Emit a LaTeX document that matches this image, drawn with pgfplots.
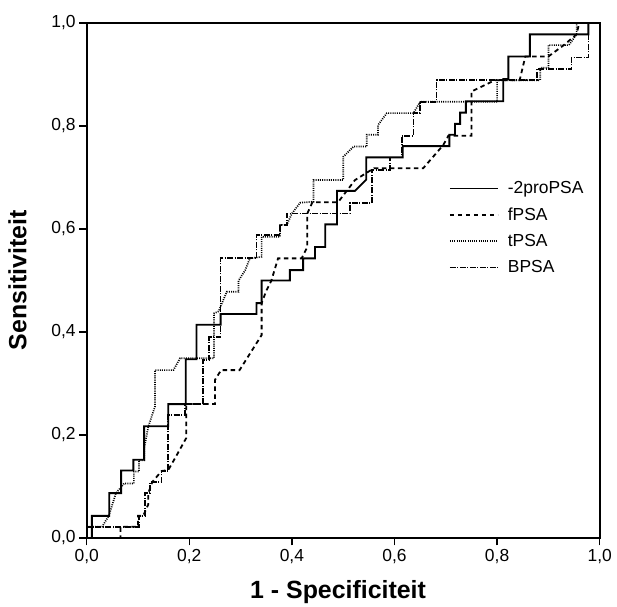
\documentclass[border=0pt]{standalone}
\usepackage{fontspec}
\setmainfont{Liberation Sans}
\usepackage{pgfplots}
\pgfplotsset{compat=1.18}
\begin{document}
\begin{tikzpicture}
\begin{axis}[
  at={(0,0)}, anchor=south west,
  scale only axis, width=513bp, height=515bp,
  xmin=0, xmax=1, ymin=0, ymax=1,
  axis line style={line width=2bp},
  xtick={0,0.2,0.4,0.6,0.8,1}, ytick={0,0.2,0.4,0.6,0.8,1},
  tick align=outside, xtick pos=bottom, ytick pos=left,
  major tick length=7.5bp,
  tick style={line width=1.4bp, black},
  ticklabel style={font=\fontsize{17.5}{20}\selectfont},
  xlabel={\textbf{1 - Specificiteit}},
  ylabel={\textbf{Sensitiviteit}},
  xlabel style={at={(axis description cs:0.49,-0.105)}, anchor=center, font=\fontsize{25}{28}\selectfont},
  ylabel style={at={(axis description cs:-0.135,0.5)}, anchor=center, font=\fontsize{25}{28}\selectfont},
  legend cell align=left,
  legend style={at={(axis cs:0.700,0.700)}, anchor=north west, draw=none, fill=none,
    font=\fontsize{17.5}{20}\selectfont, row sep=8.5bp,
    /tikz/every odd column/.append style={column sep=7bp}},
  legend image code/.code={\draw[#1] (0bp,0bp) -- (48bp,0bp);},
  /pgf/number format/fixed,
  /pgf/number format/fixed zerofill,
  /pgf/number format/precision=1,
  /pgf/number format/use comma,
  /pgf/number format/assume math mode=true,
]
% -2proPSA
\addplot[black, mark=none, line width=1.9bp] coordinates {(0,0)(0.01,0)(0.01,0.043)(0.044,0.043)(0.044,0.087)(0.067,0.087)(0.067,0.131)(0.091,0.131)(0.091,0.152)(0.112,0.152)(0.112,0.217)(0.159,0.217)(0.159,0.26)(0.193,0.26)(0.193,0.347)(0.214,0.347)(0.214,0.414)(0.261,0.414)(0.261,0.435)(0.331,0.435)(0.331,0.456)(0.341,0.456)(0.341,0.5)(0.396,0.5)(0.396,0.52)(0.422,0.52)(0.422,0.543)(0.445,0.543)(0.445,0.565)(0.465,0.565)(0.465,0.609)(0.488,0.609)(0.488,0.674)(0.523,0.674)(0.545,0.696)(0.545,0.739)(0.616,0.739)(0.616,0.761)(0.707,0.761)(0.707,0.783)(0.718,0.783)(0.718,0.804)(0.728,0.804)(0.728,0.826)(0.739,0.826)(0.739,0.848)(0.812,0.848)(0.812,0.891)(0.822,0.891)(0.822,0.935)(0.864,0.935)(0.864,0.978)(0.978,0.978)(0.978,1)(1,1)};
\addlegendentry{-2proPSA}
% fPSA
\addplot[black, mark=none, line width=1.8bp, dash pattern=on 4.5bp off 3.5bp] coordinates {(0,0)(0.066,0)(0.066,0.022)(0.1,0.022)(0.1,0.043)(0.11,0.043)(0.12,0.065)(0.12,0.087)(0.128,0.109)(0.146,0.13)(0.159,0.132)(0.175,0.16)(0.194,0.194)(0.194,0.26)(0.25,0.26)(0.25,0.307)(0.262,0.326)(0.298,0.326)(0.341,0.394)(0.341,0.456)(0.35,0.48)(0.36,0.5)(0.373,0.543)(0.419,0.543)(0.43,0.565)(0.43,0.63)(0.44,0.652)(0.49,0.652)(0.523,0.695)(0.56,0.718)(0.656,0.718)(0.695,0.763)(0.705,0.781)(0.75,0.781)(0.75,0.867)(0.796,0.889)(0.844,0.889)(0.855,0.935)(0.9,0.935)(0.93,0.957)(0.955,0.978)(0.96,1)(1,1)};
\addlegendentry{fPSA}
% tPSA
\addplot[black, mark=none, line width=1.7bp, dash pattern=on 1bp off 1.2bp] coordinates {(0,0)(0,0.022)(0.03,0.022)(0.043,0.043)(0.05,0.065)(0.057,0.087)(0.073,0.106)(0.092,0.106)(0.092,0.129)(0.102,0.129)(0.102,0.151)(0.112,0.151)(0.112,0.174)(0.12,0.216)(0.133,0.255)(0.133,0.326)(0.169,0.326)(0.182,0.349)(0.248,0.349)(0.248,0.436)(0.257,0.44)(0.273,0.478)(0.296,0.478)(0.296,0.5)(0.309,0.52)(0.318,0.543)(0.341,0.546)(0.341,0.585)(0.377,0.585)(0.377,0.608)(0.39,0.608)(0.4,0.63)(0.416,0.651)(0.442,0.653)(0.442,0.695)(0.5,0.695)(0.5,0.74)(0.52,0.76)(0.546,0.76)(0.546,0.783)(0.568,0.783)(0.568,0.802)(0.585,0.825)(0.637,0.825)(0.65,0.847)(0.8,0.847)(0.8,0.889)(0.884,0.889)(0.884,0.913)(0.9,0.913)(0.9,0.957)(0.94,0.957)(0.955,0.978)(0.955,1)(1,1)};
\addlegendentry{tPSA}
% BPSA
\addplot[black, mark=none, line width=1.8bp, dash pattern=on 6bp off 1.5bp on 1bp off 1.5bp] coordinates {(0,0)(0,0.022)(0.102,0.022)(0.102,0.043)(0.114,0.043)(0.114,0.087)(0.123,0.087)(0.123,0.109)(0.146,0.109)(0.146,0.13)(0.159,0.13)(0.159,0.239)(0.192,0.239)(0.192,0.26)(0.227,0.26)(0.227,0.346)(0.239,0.346)(0.239,0.39)(0.261,0.39)(0.261,0.543)(0.331,0.543)(0.331,0.588)(0.377,0.588)(0.377,0.608)(0.39,0.608)(0.39,0.63)(0.513,0.63)(0.513,0.65)(0.556,0.65)(0.556,0.715)(0.591,0.715)(0.591,0.739)(0.614,0.739)(0.614,0.781)(0.637,0.781)(0.637,0.825)(0.65,0.825)(0.65,0.847)(0.682,0.847)(0.682,0.889)(0.877,0.889)(0.877,0.91)(0.945,0.91)(0.945,0.933)(0.978,0.933)(0.978,1)(1,1)};
\addlegendentry{BPSA}
\end{axis}
\path (-86.7bp,-67bp) rectangle (530.3bp,538bp);
\end{tikzpicture}
\end{document}
